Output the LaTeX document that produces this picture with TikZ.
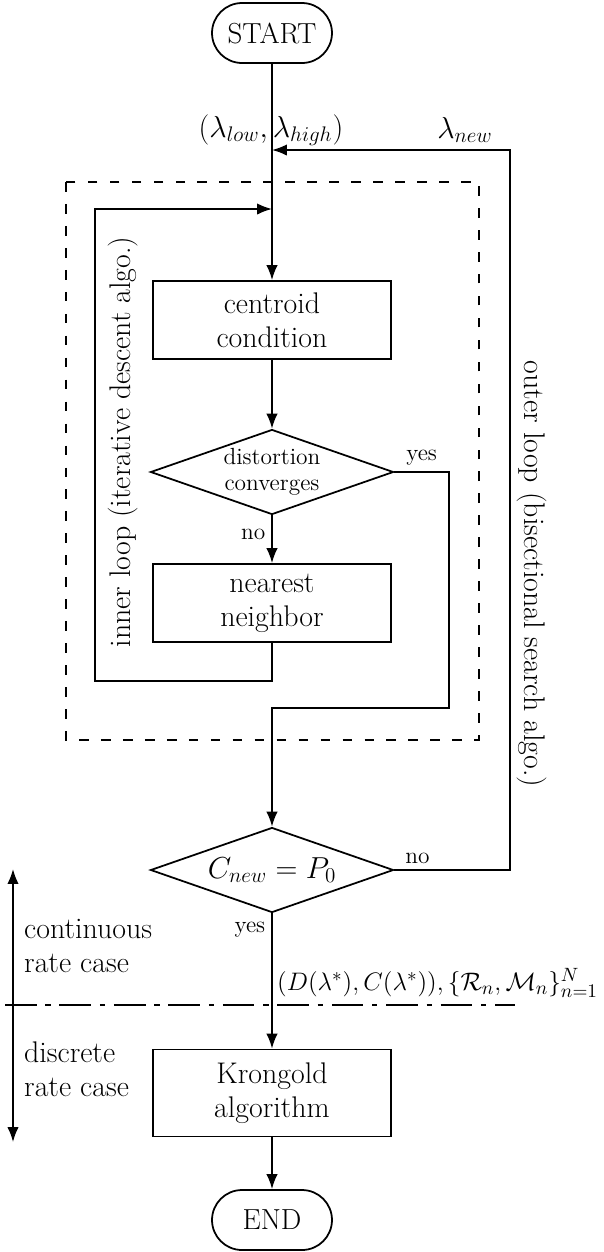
\documentclass[tikz,border=0pt]{standalone}
\usepackage{amsmath}
\usepackage{amssymb}
\usetikzlibrary{
    arrows.meta,
    positioning,
    shapes.geometric
}

\begin{document}
\begin{tikzpicture}[
        x=0.02cm, y=-0.02cm,
        >={Latex[length=8.5pt,width=6.5pt]},
        font=\fontsize{17}{19.5}\selectfont,
        term/.style={
            draw,
            line width=1pt,
            rounded corners=0.6cm,
            minimum width=2.4cm,
            minimum height=1.2cm,
            font=\fontsize{16.5}{19.5}\selectfont
        },
        block/.style={
            draw,
            line width=1pt,
            align=center,
            minimum width=4.76cm,
            minimum height=1.56cm
        },
        decision/.style={
            diamond,
            draw,
            line width=1pt,
            align=center,
            aspect=2.9,
            inner sep=0pt,
            minimum width=4.86cm,
            minimum height=1.7cm
        },
        flow/.style={->, line width=1pt},
        small/.style={font=\fontsize{13.3}{15}\selectfont},
        big/.style={font=\fontsize{16.5}{19.5}\selectfont}
    ]
        \useasboundingbox (0,0) rectangle (604,1252);

        % flowchart nodes
        \node[term] (start) at (272,33) {START};
        \node[block] (cent) at (272,320) {centroid\\condition};
        \node[decision, small] (conv) at (272,472) {distortion\\converges};
        \node[block] (near) at (272,603) {nearest\\neighbor};
        \node[decision, big] (check) at (272,870) {$C_{new}=P_0$};
        \node[block, minimum height=1.74cm] (krong) at (272,1093) {Krongold\\algorithm};
        \node[term] (end) at (272,1220) {END};

        % joints of the loops
        \coordinate (in) at (272,150);
        \coordinate (loopin) at (272,209);
        \coordinate (innerbl) at (95,681);
        \coordinate (yesr) at (449,708);
        \coordinate (outtop) at (510,150);

        % labels
        \node[big] (lamlh) at (271,130) {$(\lambda_{low},\lambda_{high})$};
        \node[big] (lamnew) at (465,130) {$\lambda_{new}$};
        \node[rotate=90] (innerlbl) at (123,442)
            {inner loop (iterative descent algo.)};
        \node[rotate=-90] (outerlbl) at (532,574)
            {outer loop (bisectional search algo.)};
        \node[anchor=west, font=\fontsize{15.4}{18}\selectfont] (result) at (271,983)
            {$(D(\lambda^*),C(\lambda^*)),\{\mathcal{R}_n,\mathcal{M}_n\}_{n=1}^N$};

        % dashed box round the inner loop
        \draw[line width=1pt, dash pattern=on 5.5pt off 7pt] (66,182) rectangle (479,740);

        % connectors
        \draw[flow] (start) -- (cent);
        \draw[flow] (cent) -- (conv);
        \draw[flow] (conv) -- node[small, left, pos=0.4] {no} (near);
        \draw[flow] (near.south) |- (innerbl) |- (loopin);
        \draw[flow] (conv.east) -| node[small, above, pos=0.25] {yes} (yesr)
            -| (check.north);
        \draw[flow] (check.east) -| node[small, above, pos=0.1] {no} (outtop)
            -- (in);
        \draw[flow] (check.south) -- node[small, left, pos=0.12] {yes} (krong);
        \draw[flow] (krong) -- (end);

        % rate cases
        \coordinate (divl) at (5,1005);
        \coordinate (divr) at (515,1005);
        \draw[line width=1pt, dash pattern=on 18pt off 5pt on 3pt off 5pt] (divl) -- (divr);
        \coordinate (ctop) at (13,869);
        \coordinate (dbot) at (13,1142);
        \draw[<->, line width=1pt] (dbot) -- (ctop);
        \node[anchor=west, align=left] (cont) at (18,946)
            {continuous\\rate case};
        \node[anchor=west, align=left] (disc) at (18,1069)
            {discrete\\rate case};
    \end{tikzpicture}
\end{document}
